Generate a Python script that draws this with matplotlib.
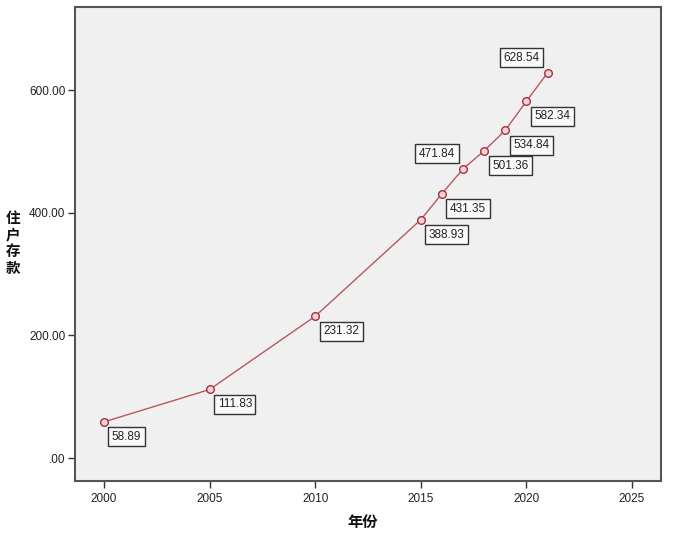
import matplotlib
matplotlib.use("Agg")
import matplotlib.pyplot as plt

plt.rcParams['font.family'] = ['Liberation Sans', 'Noto Sans CJK SC', 'DejaVu Sans']

years = [2000, 2005, 2010, 2015, 2016, 2017, 2018, 2019, 2020, 2021]
deposits = [58.89, 111.83, 231.32, 388.93, 431.35, 471.84, 501.36, 534.84, 582.34, 628.54]
value_labels = ['58.89', '111.83', '231.32', '388.93', '431.35', '471.84', '501.36', '534.84', '582.34', '628.54']
label_above = [False, False, False, False, False, True, False, False, False, True]

x_ticks = [2000, 2005, 2010, 2015, 2020, 2025]
x_tick_labels = ['2000', '2005', '2010', '2015', '2020', '2025']
y_ticks = [0, 200, 400, 600]
y_tick_labels = ['.00', '200.00', '400.00', '600.00']

fig = plt.figure(figsize=(6.85, 5.36), dpi=100)
ax = fig.add_axes([75/685, 1-481/536, (661-75)/685, (481-7)/536])
ax.set_facecolor('#f0f0f0')

ax.plot(years, deposits, color='#b8575e', linewidth=1.0, marker='o', markersize=5.5,
        markerfacecolor='#f4d2d5', markeredgecolor='#a3303e', markeredgewidth=1.0, zorder=3)

box_style = dict(boxstyle='square,pad=0.3', facecolor='#fafafa', edgecolor='#333333', linewidth=1.0)
for x, y, lab, above in zip(years, deposits, value_labels, label_above):
    if above:
        ax.annotate(lab, (x, y), xytext=(-8, 9), textcoords='offset pixels',
                    ha='right', va='bottom', fontsize=8.5, color='#222222',
                    bbox=box_style, zorder=4)
    else:
        ax.annotate(lab, (x, y), xytext=(8, -9), textcoords='offset pixels',
                    ha='left', va='top', fontsize=8.5, color='#222222',
                    bbox=box_style, zorder=4)

ax.set_xlim(1998.63, 2026.37)
ax.set_ylim(-37.5, 736)
ax.set_xticks(x_ticks)
ax.set_xticklabels(x_tick_labels)
ax.set_yticks(y_ticks)
ax.set_yticklabels(y_tick_labels)
ax.tick_params(axis='both', direction='out', length=5, width=1.0, color='#333333',
               labelsize=8.5, labelcolor='#222222', pad=2)
ax.tick_params(axis='x', pad=4)

for s in ax.spines.values():
    s.set_color('#555555')
    s.set_linewidth(1.5)

fig.text(363/685, 1-522/536, '年份', ha='center', va='center', fontsize=11, fontweight='bold',
         family=['Noto Sans CJK SC', 'DejaVu Sans'], color='#111111')
fig.text(13/685, 1-243/536, '住\n户\n存\n款', ha='center', va='center', fontsize=10.5, fontweight='bold',
         family=['Noto Sans CJK SC', 'DejaVu Sans'], color='#111111', linespacing=1.05)

fig.savefig('out.png', dpi=100)
